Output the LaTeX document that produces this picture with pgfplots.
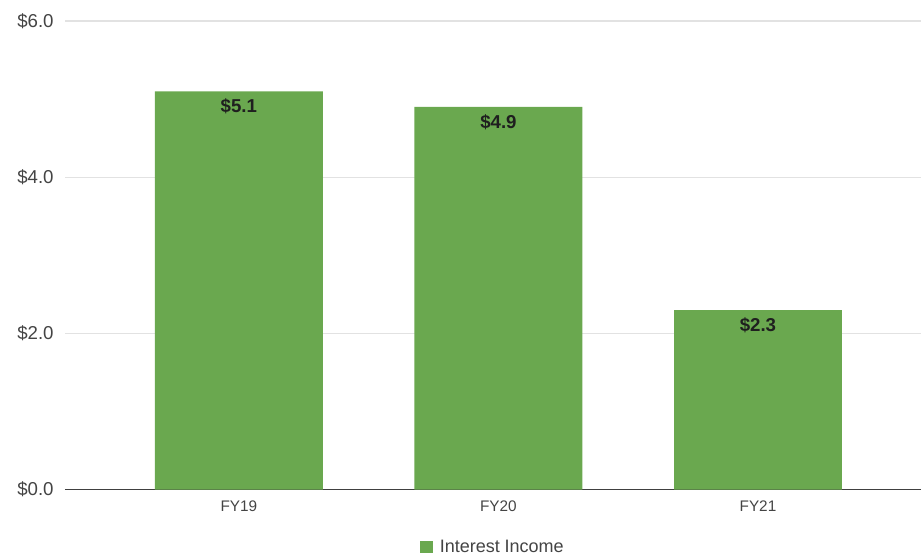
\documentclass[border=0pt]{standalone}
\usepackage{pgfplots}
\pgfplotsset{compat=1.18}
\usepackage{fontspec}
\setmainfont{Liberation Sans}
\definecolor{barg}{HTML}{6AA84F}
\definecolor{gridg}{HTML}{E2E2E2}
\definecolor{txt}{HTML}{444444}
\begin{document}
\begin{tikzpicture}
\begin{axis}[
  name=ax,
  scale only axis,
  width=642.75pt, height=351.75pt,
  xmin=-0.67, xmax=2.63,
  ymin=0, ymax=6,
  ybar, bar width=0.647,
  bar shift=0pt,
  axis x line*=bottom,
  axis y line*=left,
  y axis line style={draw=none},
  x axis line style={draw=black!75, line width=0.8pt},
  xtick={0,1,2},
  xticklabels={FY19,FY20,FY21},
  x tick label style={font=\fontsize{11.5}{13}\selectfont, text=txt, yshift=-5pt},
  major tick length=0pt,
  ytick={0,2,4,6},
  yticklabels={\$0.0,\$2.0,\$4.0,\$6.0},
  y tick label style={font=\fontsize{14}{16}\selectfont, text=txt, xshift=-5pt},
  ymajorgrids,
  grid style={gridg, line width=0.8pt},
  /pgf/number format/assume math mode=true,
  legend style={at={(0.5,-0.095)}, anchor=north, draw=none, font=\fontsize{13.5}{15}\selectfont, text=txt,
    legend cell align=left},
  legend image code/.code={\fill[barg] (0cm,-0.17cm) rectangle (0.34cm,0.17cm); \path (0.45cm,0);},
  nodes near coords={\$\pgfmathprintnumber[fixed,fixed zerofill,precision=1]{\pgfplotspointmeta}},
  every node near coord/.append style={anchor=north, yshift=-2pt, font=\bfseries\fontsize{14}{16}\selectfont, text=black!88},
  clip=false,
]
\addplot[fill=barg, draw=none] coordinates {(0,5.1) (1,4.9) (2,2.3)};
\addlegendentry{Interest Income}
\end{axis}
\path ([xshift=-48.75pt,yshift=-49.5pt]ax.south west) rectangle ([yshift=15.75pt]ax.north east);
\end{tikzpicture}
\end{document}
